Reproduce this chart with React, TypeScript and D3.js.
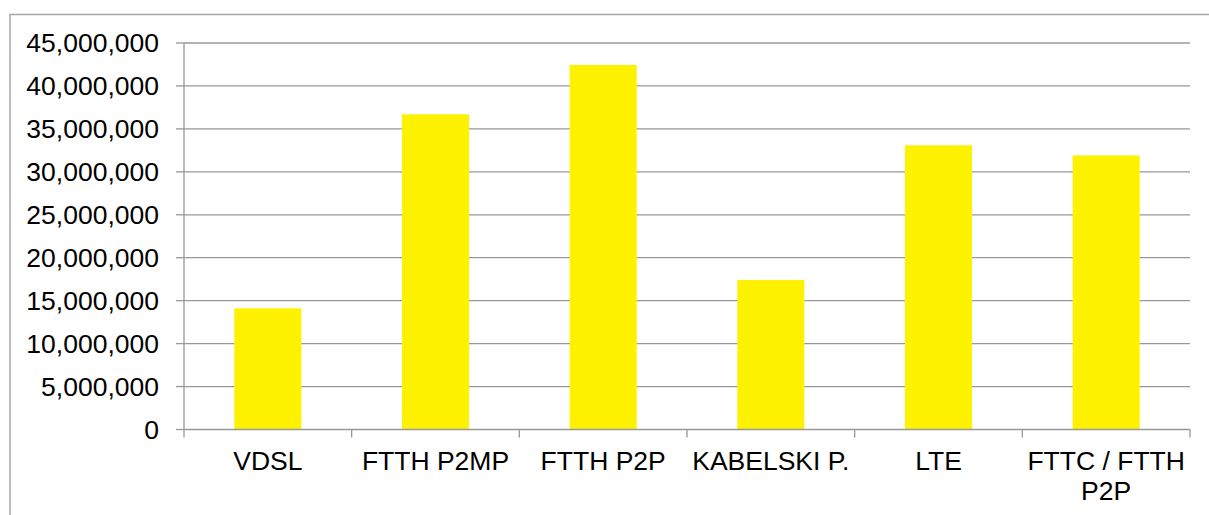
import React from "react";
import * as d3 from "d3";

const categories = ["VDSL", "FTTH P2MP", "FTTH P2P", "KABELSKI P.", "LTE", "FTTC / FTTH\nP2P"];
const values = [14110000, 36700000, 42440000, 17410000, 33090000, 31920000];
const yTicks = [0, 5000000, 10000000, 15000000, 20000000, 25000000, 30000000, 35000000, 40000000, 45000000];

const W = 1209;
const H = 515;
const FONT = "'Liberation Sans', Arial, sans-serif";
const FS = 26.5;

export default function App() {
  const left = 184;
  const right = 1190;
  const top = 43;
  const bottom = 429.5;

  const x = d3.scaleBand<string>().domain(categories).range([left, right]).paddingInner(0.6).paddingOuter(0.3);
  const y = d3.scaleLinear().domain([0, 45000000]).range([bottom, top]);
  const fmt = d3.format(",");
  const step = x.step();
  const boundaries = d3.range(categories.length + 1).map((i) => left + i * step);

  return (
    <svg width={W} height={H} style={{ position: "absolute", left: 0, top: 0, display: "block", background: "#fff" }}>
      <rect x={10} y={14.5} width={W + 10} height={H + 20} fill="#fff" stroke="#a6a6a6" strokeWidth={1.5} />
      {yTicks.map((t) => (
        <g key={t}>
          {t > 0 && <line x1={left} x2={right} y1={y(t)} y2={y(t)} stroke="#989898" strokeWidth={1.3} />}
          <line x1={left - 8} x2={left} y1={y(t)} y2={y(t)} stroke="#989898" strokeWidth={1.3} />
          <text x={159} y={y(t)} dy="0.35em" textAnchor="end" fontFamily={FONT} fontSize={FS} fontWeight={400} fill="#000">
            {fmt(t)}
          </text>
        </g>
      ))}
      {categories.map((c, i) => (
        <rect key={c} x={x(c)} y={y(values[i])} width={x.bandwidth()} height={y(0) - y(values[i])} fill="#fff200" />
      ))}
      <line x1={left} x2={left} y1={top} y2={bottom} stroke="#989898" strokeWidth={1.3} />
      <line x1={left} x2={right} y1={bottom} y2={bottom} stroke="#989898" strokeWidth={1.3} />
      {boundaries.map((b, i) => (
        <line key={i} x1={b} x2={b} y1={bottom} y2={bottom + 8} stroke="#989898" strokeWidth={1.3} />
      ))}
      {categories.map((c) => {
        const lines = c.split("\n");
        const cx = (x(c) as number) + x.bandwidth() / 2;
        return (
          <text key={c} textAnchor="middle" fontFamily={FONT} fontSize={FS} fontWeight={400} fill="#000">
            {lines.map((l, j) => (
              <tspan key={j} x={cx} y={470 + j * 30}>
                {l}
              </tspan>
            ))}
          </text>
        );
      })}
    </svg>
  );
}
